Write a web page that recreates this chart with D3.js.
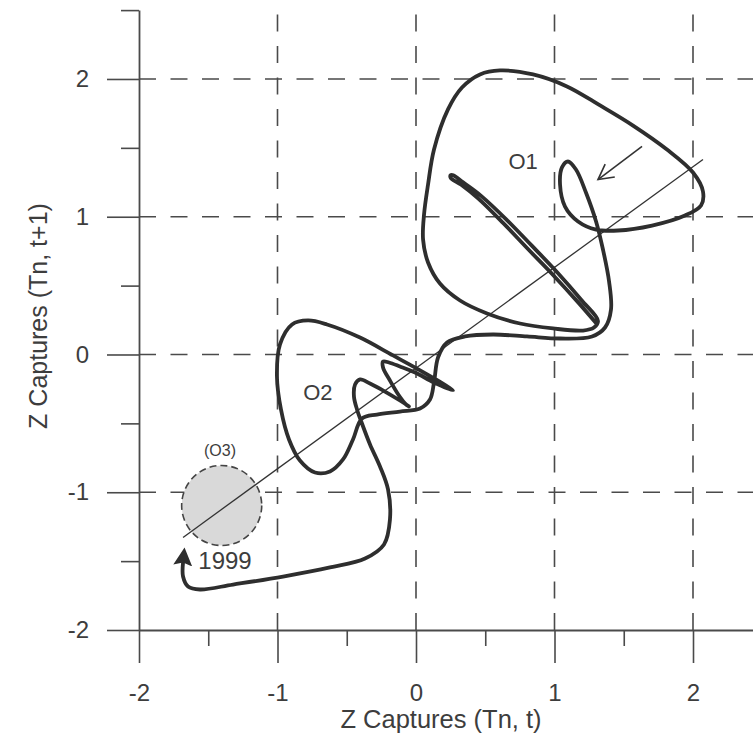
<!DOCTYPE html>
<html>
<head>
<meta charset="utf-8">
<script src="https://cdn.jsdelivr.net/npm/d3@7"></script>
<style>
  body { margin: 0; background: #fff; }
  svg { display: block; }
  text { font-family: "Liberation Sans", Arial, sans-serif; fill: #3d3d3d; }
</style>
</head>
<body>
<svg id="chart" width="753" height="737"></svg>
<script>
// Axis ticks
const majorTicks = [-2, -1, 0, 1, 2];
const minorTicks = [-1.5, -0.5, 0.5, 1.5, 2.5];
const gridValues = [-1, 0, 1, 2];

// Phase trajectory Z(t) -> Z(t+1), drawn as one continuous path (segments in order)
const trajStart = [[1.2996,0.2287],[1.1740,0.3746],[0.9913,0.5757],[0.8101,0.7637],[0.6303,0.9532],[0.4520,1.1296],[0.3242,1.2334],[0.2505,1.2828],[0.2505,1.3016],[0.2693,1.3016],[0.3401,1.2494],[0.4722,1.1499],[0.6549,0.9779],[0.8361,0.7898],[1.0159,0.6004],[1.1942,0.3949],[1.3141,0.2432]];
const trajO1 = [[1.285,0.196],[1.206,0.174],[0.989,0.189],[0.751,0.225],[0.513,0.298],[0.318,0.392],[0.173,0.515],[0.087,0.668],[0.051,0.835],[0.058,1.016],[0.087,1.234],[0.130,1.488],[0.231,1.779],[0.332,1.938],[0.462,2.033],[0.606,2.062],[0.845,2.033],[1.090,1.946],[1.329,1.808],[1.567,1.662],[1.812,1.488],[2.000,1.321],[2.072,1.183],[2.058,1.082],[1.942,1.009],[1.704,0.936],[1.458,0.900],[1.300,0.907],[1.170,0.966],[1.076,1.074],[1.040,1.234],[1.054,1.358],[1.097,1.401],[1.155,1.343],[1.227,1.176],[1.300,0.966],[1.350,0.762],[1.394,0.530],[1.408,0.327],[1.365,0.196],[1.271,0.131],[1.040,0.116],[0.801,0.131],[0.556,0.145],[0.354,0.131]];
const trajS = [[0.224,0.087],[0.159,-0.022],[0.130,-0.203],[0.101,-0.327],[0.029,-0.392],[-0.116,-0.414],[-0.282,-0.436],[-0.390,-0.465]];
const trajO2 = [[-0.455,-0.617],[-0.527,-0.762],[-0.621,-0.849],[-0.729,-0.857],[-0.838,-0.770],[-0.917,-0.617],[-0.975,-0.399],[-1.004,-0.160],[-0.982,0.073],[-0.895,0.218],[-0.780,0.247],[-0.643,0.218],[-0.404,0.123],[-0.166,-0.007],[0.007,-0.102],[0.144,-0.181],[0.238,-0.240],[0.267,-0.261],[0.130,-0.203],[-0.007,-0.131],[-0.116,-0.087],[-0.195,-0.058],[-0.238,-0.051],[-0.238,-0.094],[-0.188,-0.189],[-0.123,-0.298],[-0.072,-0.363],[-0.051,-0.377],[-0.116,-0.334],[-0.224,-0.269],[-0.332,-0.211],[-0.404,-0.181]];
const trajEnd = [[-0.440,-0.218],[-0.448,-0.305],[-0.426,-0.399],[-0.390,-0.501],[-0.332,-0.653],[-0.260,-0.813],[-0.202,-0.980],[-0.188,-1.198],[-0.231,-1.379],[-0.368,-1.481],[-0.621,-1.546],[-0.960,-1.612],[-1.321,-1.670],[-1.560,-1.706],[-1.646,-1.684],[-1.682,-1.612],[-1.682,-1.510]];

// Diagonal reference line end points
const refLine = [[-1.682,-1.328],[2.072,1.416]];
// Direction arrow near O1 (tail -> head)
const dirArrow = [[1.632,1.510],[1.314,1.270]];
// O3 zone
const zoneO3 = { cx: -1.403, cy: -1.096, r: 0.289 };
// Annotations
const labels = [
  { text: "O1", x: 0.773, y: 1.401, size: 22 },
  { text: "O2", x: -0.708, y: -0.276, size: 22 },
  { text: "(O3)", x: -1.415, y: -0.697, size: 16 },
  { text: "1999", x: -1.379, y: -1.495, size: 24 }
];

const svg = d3.select("#chart");
const x = d3.scaleLinear().domain([-2, 2.5]).range([139, 762.25]);
const y = d3.scaleLinear().domain([-2, 2.5]).range([630, 10.1]);
const ink = "#4a4a4a";

const defs = svg.append("defs");
defs.append("marker").attr("id", "boldHead").attr("markerUnits", "userSpaceOnUse")
  .attr("viewBox", "0 -11 20 22").attr("markerWidth", 20).attr("markerHeight", 22)
  .attr("refX", 3).attr("refY", 0).attr("orient", "auto")
  .append("path").attr("d", "M0,-9.5 L18,0 L0,9.5 L3,0 Z").attr("fill", "#2e2e2e");
defs.append("marker").attr("id", "openHead").attr("markerUnits", "userSpaceOnUse")
  .attr("viewBox", "-18 -10 20 20").attr("markerWidth", 20).attr("markerHeight", 20)
  .attr("refX", 0).attr("refY", 0).attr("orient", "auto")
  .append("path").attr("d", "M-15,-8 L0,0 L-15,8").attr("fill", "none")
  .attr("stroke", "#333").attr("stroke-width", 1.6);

// Dashed grid
const grid = svg.append("g").attr("stroke", ink).attr("stroke-width", 1.6)
  .attr("stroke-dasharray", "17,14.5").attr("fill", "none");
grid.selectAll("line.v").data(gridValues).join("line").attr("class", "v")
  .attr("x1", d => x(d)).attr("x2", d => x(d)).attr("y1", y(-2)).attr("y2", y(2.5));
grid.selectAll("line.h").data(gridValues).join("line").attr("class", "h")
  .attr("y1", d => y(d)).attr("y2", d => y(d)).attr("x1", x(-2)).attr("x2", x(2.5));

// Axes
const fmt = d => String(d);
function styleAxis(g) {
  g.selectAll("path.domain").attr("stroke", ink).attr("stroke-width", 1.8);
  g.selectAll(".tick line").attr("stroke", ink).attr("stroke-width", 1.6);
  g.selectAll(".tick text").attr("font-size", 24).attr("fill", "#3d3d3d")
    .attr("font-family", "Liberation Sans, Arial, sans-serif");
}
const xAxis = svg.append("g").attr("transform", `translate(0,${y(-2)})`)
  .call(d3.axisBottom(x).tickValues(majorTicks).tickSize(33).tickPadding(21).tickSizeOuter(0).tickFormat(fmt));
styleAxis(xAxis);
const xMinorAxis = svg.append("g").attr("transform", `translate(0,${y(-2)})`)
  .call(d3.axisBottom(x).tickValues(minorTicks).tickSize(16).tickSizeOuter(0).tickFormat(""));
xMinorAxis.select("path.domain").remove();
styleAxis(xMinorAxis);

const yAxis = svg.append("g").attr("transform", `translate(${x(-2)},0)`)
  .call(d3.axisLeft(y).tickValues(majorTicks).tickSize(32).tickPadding(18).tickSizeOuter(0).tickFormat(fmt));
styleAxis(yAxis);
const yMinorAxis = svg.append("g").attr("transform", `translate(${x(-2)},0)`)
  .call(d3.axisLeft(y).tickValues(minorTicks).tickSize(18).tickSizeOuter(0).tickFormat(""));
yMinorAxis.select("path.domain").remove();
styleAxis(yMinorAxis);

// Axis titles
svg.append("text").attr("x", 441).attr("y", 728).attr("text-anchor", "middle")
  .attr("font-size", 25.5).text("Z Captures (Tn, t)");
svg.append("text").attr("transform", "translate(47,316) rotate(-90)").attr("text-anchor", "middle")
  .attr("font-size", 25).text("Z Captures (Tn, t+1)");

// O3 zone
svg.append("circle").attr("cx", x(zoneO3.cx)).attr("cy", y(zoneO3.cy))
  .attr("r", x(zoneO3.cx + zoneO3.r) - x(zoneO3.cx))
  .attr("fill", "#d9d9d9").attr("stroke", "#444").attr("stroke-width", 1.6)
  .attr("stroke-dasharray", "7,4");

// Reference diagonal
svg.append("line").attr("x1", x(refLine[0][0])).attr("y1", y(refLine[0][1]))
  .attr("x2", x(refLine[1][0])).attr("y2", y(refLine[1][1]))
  .attr("stroke", "#333").attr("stroke-width", 1.3);

// Trajectory
const traj = [].concat(trajStart, trajO1, trajS, trajO2, trajEnd);
const path = d3.line().x(d => x(d[0])).y(d => y(d[1])).curve(d3.curveCatmullRom.alpha(0.5));
svg.append("path").attr("d", path(traj)).attr("fill", "none")
  .attr("stroke", "#2e2e2e").attr("stroke-width", 3.8)
  .attr("stroke-linejoin", "round").attr("stroke-linecap", "round")
  .attr("marker-end", "url(#boldHead)");

// Direction arrow
svg.append("line").attr("x1", x(dirArrow[0][0])).attr("y1", y(dirArrow[0][1]))
  .attr("x2", x(dirArrow[1][0])).attr("y2", y(dirArrow[1][1]))
  .attr("stroke", "#333").attr("stroke-width", 1.6).attr("marker-end", "url(#openHead)");

// Labels
svg.selectAll("text.lab").data(labels).join("text").attr("class", "lab")
  .attr("x", d => x(d.x)).attr("y", d => y(d.y)).attr("dy", "0.36em")
  .attr("text-anchor", "middle").attr("font-size", d => d.size).text(d => d.text);
</script>
</body>
</html>
